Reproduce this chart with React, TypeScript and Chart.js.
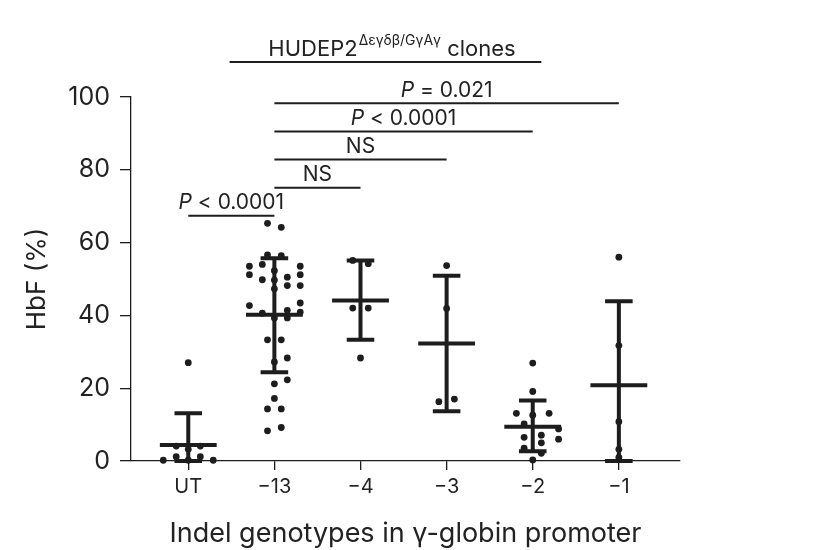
import { useEffect, useRef } from 'react';
import { Chart, registerables } from 'chart.js';
import type { Plugin } from 'chart.js';

Chart.register(...registerables);

const categories = ['UT', '\u221213', '\u22124', '\u22123', '\u22122', '\u22121'];

// HbF (%) of each clone, with its horizontal scatter offset (in category widths)
const utValues = [27.0, 4.1, 4.1, 3.2, 0.2, 1.2, 0.2, 1.2, 0.2];
const utOffsets = [0, -0.14, 0.14, 0, -0.29, -0.14, 0, 0.14, 0.29];

const m13Values = [
	65.3, 64.2, 56.6, 56.4, 53.5, 51.2, 54.0, 53.5, 51.2, 48.2, 52.3, 49.7,
	47.3, 49.8, 50.5, 48.2, 42.7, 43.4, 40.9, 41.4, 39.3, 40.6, 39.3, 33.3,
	33.3, 27.2, 28.3, 21.2, 22.3, 17.2, 14.3, 14.3, 8.3, 9.2,
];
const m13Offsets = [
	-0.08, 0.08, -0.08, 0.08, -0.29, -0.29, -0.14, 0.3, 0.3, 0.3, 0, 0, 0,
	-0.14, 0.15, 0.15, -0.29, 0.3, 0.3, 0.15, 0.15, -0.14, 0, -0.08, 0.08, 0,
	0.15, 0, 0.15, 0, -0.08, 0.08, -0.08, 0.08,
];

const m4Values = [55.1, 54.2, 42.0, 42.0, 28.3];
const m4Offsets = [-0.09, 0.09, -0.09, 0.09, 0];

const m3Values = [53.7, 41.9, 16.3, 17.0];
const m3Offsets = [0, 0, -0.09, 0.09];

const m2Values = [26.9, 19.1, 13.1, 12.6, 13.1, 10.2, 8.8, 6.0, 6.5, 7.1, 5.0, 3.5, 2.1, 0.3];
const m2Offsets = [0, 0, -0.19, 0, 0.19, -0.1, 0.3, 0.3, -0.1, 0.1, 0.1, -0.1, 0.1, 0];

const m1Values = [56.0, 31.7, 10.8, 3.2, 1.0];
const m1Offsets = [0, 0, 0, 0, 0];

// mean and s.d. bars
const means = [4.4, 40.2, 44.1, 32.3, 9.4, 20.8];
const sdUpper = [13.1, 55.7, 55.1, 50.9, 16.6, 43.9];
const sdLower = [0, 24.4, 33.3, 13.7, 2.7, 0];

// significance brackets: [from category, to category, y level]
const bracketFrom = [0, 1, 1, 1, 1];
const bracketTo = [1, 2, 3, 4, 5];
const bracketLevel = [67.4, 75.1, 82.8, 90.5, 98.3];
const bracketLabels = ['P < 0.0001', 'NS', 'NS', 'P < 0.0001', 'P = 0.021'];

const yTicks = [0, 20, 40, 60, 80, 100];

const INK = '#1d1d1d';
const FONT = 'Inter';

const groups = [
	[utValues, utOffsets],
	[m13Values, m13Offsets],
	[m4Values, m4Offsets],
	[m3Values, m3Offsets],
	[m2Values, m2Offsets],
	[m1Values, m1Offsets],
];

function drawRich(
	ctx: CanvasRenderingContext2D,
	parts: Array<{ text: string; italic?: boolean }>,
	cx: number,
	baseline: number,
	size: number
) {
	const widths = parts.map((p) => {
		ctx.font = `${p.italic ? 'italic ' : ''}${size}px ${FONT}`;
		return ctx.measureText(p.text).width;
	});
	let x = cx - widths.reduce((a, b) => a + b, 0) / 2;
	parts.forEach((p, i) => {
		ctx.font = `${p.italic ? 'italic ' : ''}${size}px ${FONT}`;
		ctx.fillText(p.text, x, baseline);
		x += widths[i];
	});
}

const errorBars: Plugin<'scatter'> = {
	id: 'errorBars',
	beforeDatasetsDraw(chart) {
		const { ctx, scales } = chart;
		const x = scales.x;
		const y = scales.y;
		ctx.save();
		ctx.strokeStyle = INK;
		ctx.lineWidth = 4;
		ctx.lineCap = 'butt';
		means.forEach((m, i) => {
			const cx = x.getPixelForValue(i);
			const yTop = y.getPixelForValue(sdUpper[i]);
			const yBot = y.getPixelForValue(sdLower[i]);
			const yMean = y.getPixelForValue(m);
			const capW = x.getPixelForValue(i + 0.16) - cx;
			const meanW = x.getPixelForValue(i + 0.33) - cx;
			ctx.beginPath();
			ctx.moveTo(cx, yTop);
			ctx.lineTo(cx, yBot);
			ctx.moveTo(cx - capW, yTop);
			ctx.lineTo(cx + capW, yTop);
			ctx.moveTo(cx - capW, yBot);
			ctx.lineTo(cx + capW, yBot);
			ctx.moveTo(cx - meanW, yMean);
			ctx.lineTo(cx + meanW, yMean);
			ctx.stroke();
		});
		ctx.restore();
	},
	afterDraw(chart) {
		const { ctx, scales } = chart;
		const x = scales.x;
		const y = scales.y;
		ctx.save();
		ctx.strokeStyle = INK;
		ctx.fillStyle = '#222';
		ctx.lineWidth = 2;
		ctx.textAlign = 'left';
		ctx.textBaseline = 'alphabetic';

		bracketLevel.forEach((level, i) => {
			const x0 = x.getPixelForValue(bracketFrom[i]);
			const x1 = x.getPixelForValue(bracketTo[i]);
			const py = y.getPixelForValue(level);
			ctx.beginPath();
			ctx.moveTo(x0, py);
			ctx.lineTo(x1, py);
			ctx.stroke();
			const label = bracketLabels[i];
			const parts = label.startsWith('P')
				? [{ text: 'P', italic: true }, { text: label.slice(1) }]
				: [{ text: label }];
			drawRich(ctx, parts, (x0 + x1) / 2, py - 6.5, 21);
		});

		// clone-group bar and its title
		const tx0 = x.getPixelForValue(0.48);
		const tx1 = x.getPixelForValue(4.1);
		const ty = y.getPixelForValue(109.6);
		ctx.beginPath();
		ctx.moveTo(tx0, ty);
		ctx.lineTo(tx1, ty);
		ctx.stroke();

		const main = 'HUDEP2';
		const sup = '\u0394\u03b5\u03b3\u03b4\u03b2/G\u03b3A\u03b3';
		const tail = ' clones';
		ctx.font = `22px ${FONT}`;
		const wMain = ctx.measureText(main).width;
		const wTail = ctx.measureText(tail).width;
		ctx.font = `14px ${FONT}`;
		const wSup = ctx.measureText(sup).width;
		let sx = x.getPixelForValue(2.36) - (wMain + wSup + wTail) / 2;
		const base = ty - 5.6;
		ctx.font = `22px ${FONT}`;
		ctx.fillText(main, sx, base);
		sx += wMain;
		ctx.font = `14px ${FONT}`;
		ctx.fillText(sup, sx + 1, base - 11);
		sx += wSup + 1;
		ctx.font = `22px ${FONT}`;
		ctx.fillText(tail, sx, base);
		ctx.restore();
	},
};

function App() {
	const canvasRef = useRef<HTMLCanvasElement | null>(null);
	const chartRef = useRef<Chart<'scatter'> | null>(null);

	useEffect(() => {
		if (!canvasRef.current) {
			return undefined;
		}
		if (chartRef.current) {
			chartRef.current.destroy();
		}

		chartRef.current = new Chart(canvasRef.current, {
			type: 'scatter',
			data: {
				datasets: groups.map(([values, offsets], i) => ({
					label: categories[i],
					data: values.map((v, j) => ({ x: i + offsets[j], y: v })),
					backgroundColor: INK,
					borderWidth: 0,
					pointRadius: 3.4,
					pointHoverRadius: 3.4,
					clip: false as const,
				})),
			},
			options: {
				animation: false,
				responsive: true,
				maintainAspectRatio: false,
				layout: {
					padding: { top: 97, left: 22, right: 134, bottom: 0 },
				},
				plugins: {
					legend: { display: false },
					tooltip: { enabled: false },
				},
				scales: {
					x: {
						type: 'linear',
						min: -0.665,
						max: 5.71,
						afterFit: (scale) => {
							scale.height = 89;
						},
						afterBuildTicks: (scale) => {
							scale.ticks = categories.map((_, i) => ({ value: i }));
						},
						ticks: {
							callback: (value) => categories[Number(value)] ?? '',
							color: '#222',
							font: { family: FONT, size: 20 },
							padding: 5,
						},
						grid: {
							drawOnChartArea: false,
							drawTicks: true,
							tickLength: 9,
							color: INK,
							lineWidth: 1.3,
						},
						border: { display: true, color: INK, width: 1.3 },
						title: {
							display: true,
							text: 'Indel genotypes in \u03b3-globin promoter',
							color: '#222',
							font: { family: FONT, size: 27 },
							padding: 0,
						},
					},
					y: {
						min: 0,
						max: 100,
						afterFit: (scale) => {
							scale.width = 109;
						},
						afterBuildTicks: (scale) => {
							scale.ticks = yTicks.map((value) => ({ value }));
						},
						ticks: {
							color: '#222',
							font: { family: FONT, size: 25 },
							padding: 10,
						},
						grid: {
							drawOnChartArea: false,
							drawTicks: true,
							tickLength: 11,
							color: INK,
							lineWidth: 1.3,
						},
						border: { display: true, color: INK, width: 1.3 },
						title: {
							display: true,
							text: 'HbF (%)',
							color: '#222',
							font: { family: FONT, size: 26 },
							padding: 0,
						},
					},
				},
			},
			plugins: [errorBars],
		});

		return () => {
			if (chartRef.current) {
				chartRef.current.destroy();
				chartRef.current = null;
			}
		};
	}, []);

	return (
		<div
			style={{
				position: 'fixed',
				left: 0,
				top: 0,
				width: 814,
				height: 550,
				background: '#fff',
			}}
		>
			<canvas ref={canvasRef}></canvas>
		</div>
	);
}

export default App;
